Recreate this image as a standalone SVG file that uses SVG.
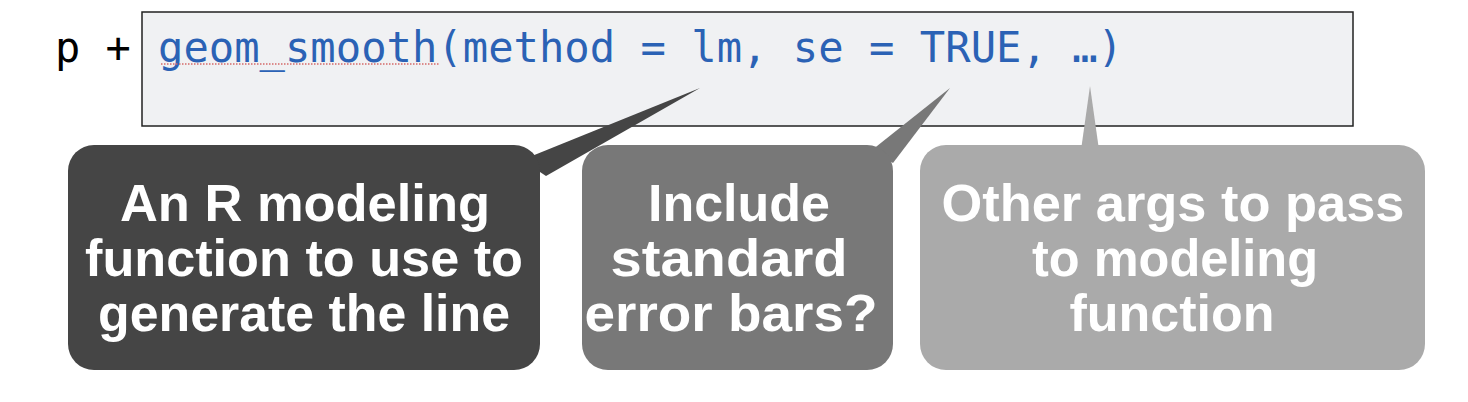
<svg xmlns="http://www.w3.org/2000/svg" width="1468" height="402" viewBox="0 0 1468 402">
<style>
.code{font-family:"DejaVu Sans Mono","Liberation Mono",monospace;font-size:42px}
.lbl{font-family:"Liberation Sans",Arial,sans-serif;font-weight:bold;font-size:52px;fill:#ffffff;text-anchor:middle}
</style>
<rect width="1468" height="402" fill="#ffffff"/>
<g id="code">
<rect x="142" y="12" width="1211" height="114" fill="#f0f1f3" stroke="#222222" stroke-width="1.5"/>
<text class="code" x="55" y="62" fill="#000000">p +</text>
<text class="code" x="158" y="62" fill="#2b62b5" textLength="965" lengthAdjust="spacingAndGlyphs">geom_smooth(method = lm, se = TRUE, …)</text>
<line x1="161" y1="64" x2="440" y2="64" stroke="#d46a6a" stroke-width="1.5" stroke-dasharray="1.5 1.5"/>
</g>
<g id="connectors">
<polygon points="522,160 700,88 546,176" fill="#454545"/>
<polygon points="872,150 950,88 893,163" fill="#787878"/>
<polygon points="1081,150 1090,86 1099,150" fill="#aaaaaa"/>
</g>
<g id="bubble-method">
<rect x="68" y="145" width="472" height="225" rx="26" fill="#454545"/>
<text class="lbl" x="305" y="221" textLength="370" lengthAdjust="spacingAndGlyphs">An R modeling</text>
<text class="lbl" x="304" y="276" textLength="438" lengthAdjust="spacingAndGlyphs">function to use to</text>
<text class="lbl" x="304" y="331" textLength="412" lengthAdjust="spacingAndGlyphs">generate the line</text>
</g>
<g id="bubble-se">
<rect x="582" y="145" width="311" height="225" rx="26" fill="#787878"/>
<text class="lbl" x="739" y="221" textLength="182" lengthAdjust="spacingAndGlyphs">Include</text>
<text class="lbl" x="729" y="276" textLength="237" lengthAdjust="spacingAndGlyphs">standard</text>
<text class="lbl" x="731" y="331" textLength="293" lengthAdjust="spacingAndGlyphs">error bars?</text>
</g>
<g id="bubble-dots">
<rect x="920" y="145" width="505" height="225" rx="26" fill="#aaaaaa"/>
<text class="lbl" x="1173" y="221" textLength="463" lengthAdjust="spacingAndGlyphs">Other args to pass</text>
<text class="lbl" x="1175" y="276" textLength="286" lengthAdjust="spacingAndGlyphs">to modeling</text>
<text class="lbl" x="1172" y="331" textLength="205" lengthAdjust="spacingAndGlyphs">function</text>
</g>
</svg>
